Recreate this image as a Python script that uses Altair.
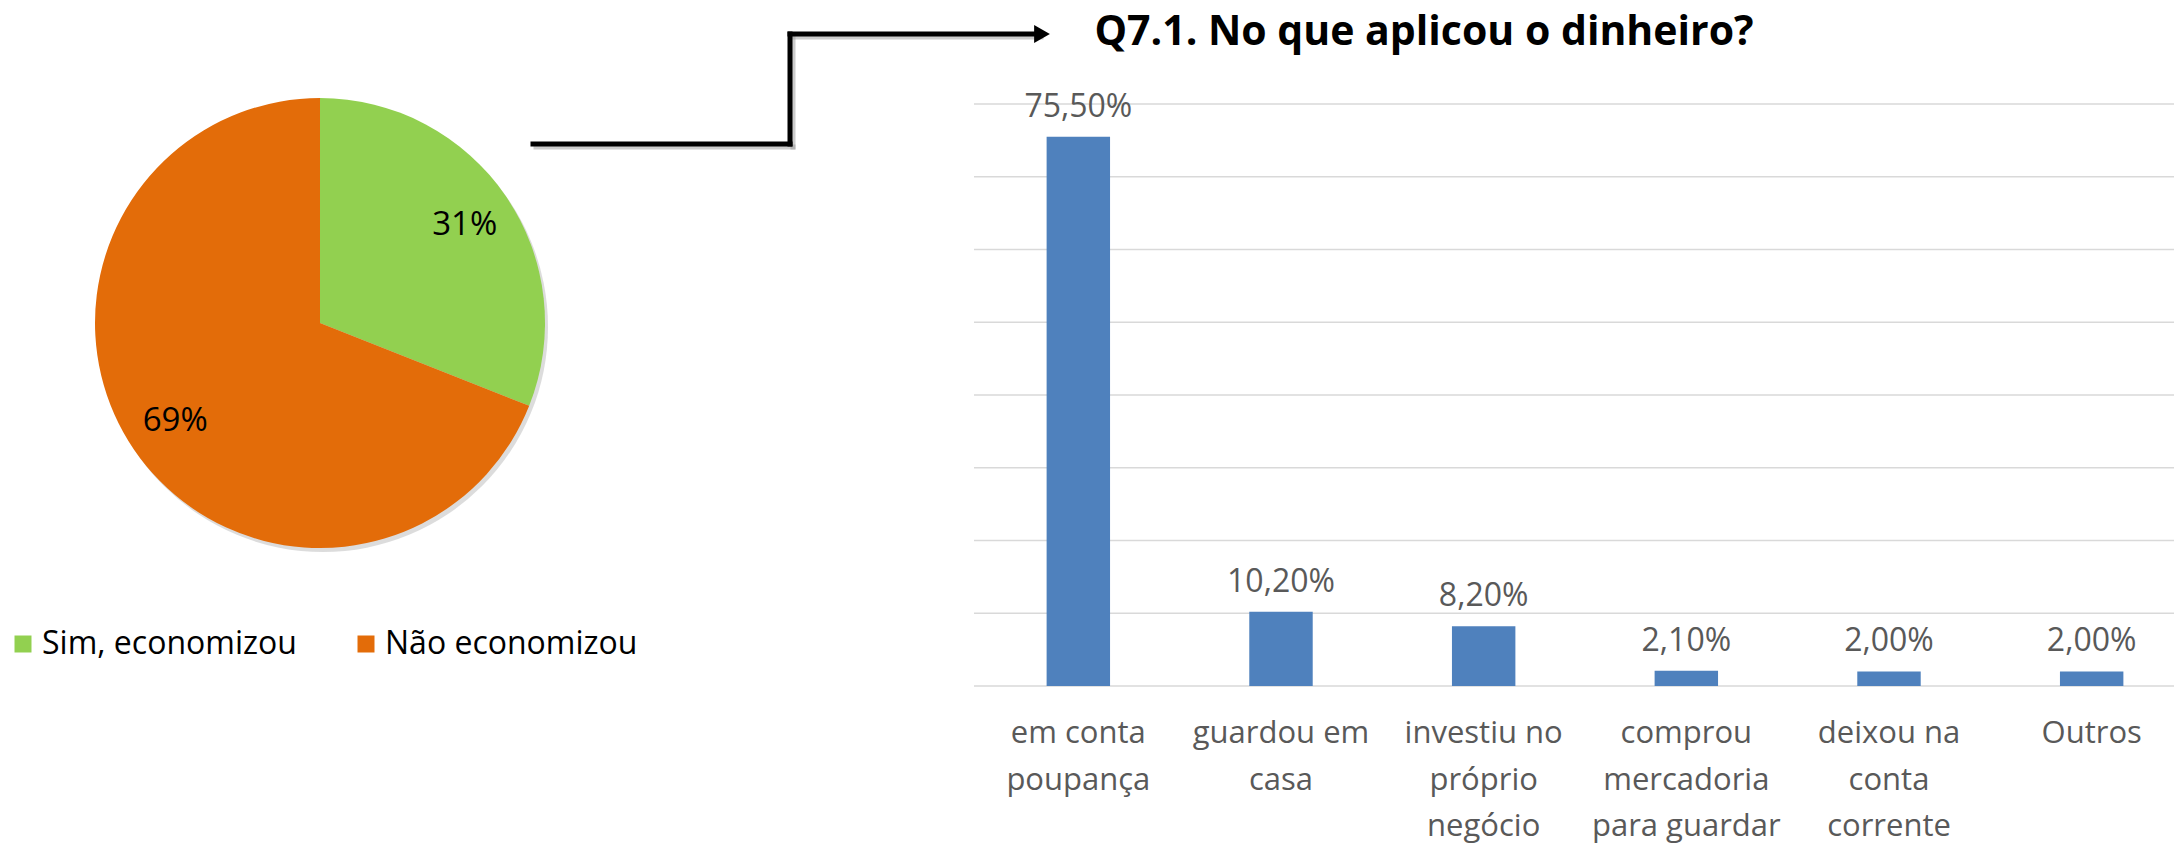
import altair as alt
import pandas as pd

# ---- data ----
segments = ["Sim, economizou", "Não economizou"]
shares = [31, 69]
share_labels = ["31%", "69%"]
pie_colors = ["#92d050", "#e36c09"]

categories = ["em conta\npoupança", "guardou em\ncasa", "investiu no\npróprio\nnegócio",
              "comprou\nmercadoria\npara guardar", "deixou na\nconta\ncorrente", "Outros"]
values = [75.5, 10.2, 8.2, 2.1, 2.0, 2.0]
value_labels = ["75,50%", "10,20%", "8,20%", "2,10%", "2,00%", "2,00%"]
grid_ticks = [0, 10, 20, 30, 40, 50, 60, 70, 80]
title_text = "Q7.1. No que aplicou o dinheiro?"

FONT = "Open Sans"
GREY = "#595959"
BAR = "#4f81bd"

pie_df = pd.DataFrame({"segment": segments, "share": shares, "lab": share_labels, "order": [0, 1]})
bar_df = pd.DataFrame({"cat": categories, "value": values, "lab": value_labels})
grid_df = pd.DataFrame({"v": grid_ticks})
one = pd.DataFrame({"a": [1]})

CX, CY, R = 312, 315, 225

xscale = alt.Scale(domain=categories, range=[969, 2185], paddingInner=0.687, paddingOuter=0.3435)
yscale = alt.Scale(domain=[0, 80], range=[678, 96], nice=False, zero=True)

# ---- pie ----
pie_shadow = alt.Chart(one).mark_arc(theta=0, theta2=6.2832, outerRadius=R,
                                     color="#9a9a9a", opacity=0.35).encode(
    x=alt.value(CX + 3), y=alt.value(CY + 4))

pie_base = alt.Chart(pie_df).encode(
    theta=alt.Theta("share:Q", stack=True),
    order=alt.Order("order:Q"),
)
pie = pie_base.mark_arc(outerRadius=R).encode(
    x=alt.value(CX), y=alt.value(CY),
    color=alt.Color("segment:N", scale=alt.Scale(domain=segments, range=pie_colors),
                    legend=alt.Legend(orient="none", legendX=-1, legendY=620, direction="horizontal",
                                      title=None, symbolType="square", symbolSize=289,
                                      symbolStrokeWidth=0, symbolOpacity=1,
                                      labelFont=FONT, labelFontSize=32, labelColor="black",
                                      labelOffset=3, columnPadding=53, labelLimit=500)),
)
pie_text = pie_base.mark_text(radius=175, font=FONT, fontSize=33, color="black",
                              align="center", baseline="middle").encode(
    x=alt.value(CX), y=alt.value(CY), text="lab:N")

# ---- arrow ----
def seg(x1, y1, x2, y2, color, op=1.0):
    return alt.Chart(one).mark_rule(color=color, strokeWidth=5, strokeCap="square", opacity=op).encode(
        x=alt.value(x1), x2=alt.value(x2), y=alt.value(y1), y2=alt.value(y2))

shadow = [seg(528, 139, 785, 139, "#9a9a9a", 0.5), seg(785, 139, 785, 29, "#9a9a9a", 0.5),
          seg(785, 29, 1033, 29, "#9a9a9a", 0.5)]
arrow = [seg(525, 136, 782, 136, "black"), seg(782, 136, 782, 26, "black"),
         seg(782, 26, 1030, 26, "black")]
head = alt.Chart(one).mark_point(shape="triangle-right", filled=True, color="black",
                                 size=330, opacity=1).encode(x=alt.value(1034), y=alt.value(26))

# ---- bar chart ----
grid = alt.Chart(grid_df).mark_rule(color="#d9d9d9", strokeWidth=1.6).encode(
    y=alt.Y("v:Q", scale=yscale, axis=None), x=alt.value(966), x2=alt.value(2174))

bars = alt.Chart(bar_df).mark_bar(color=BAR).encode(
    x=alt.X("cat:N", scale=xscale, axis=None, sort=categories),
    y=alt.Y("value:Q", scale=yscale, axis=None),
)
bar_text = alt.Chart(bar_df).mark_text(font=FONT, fontSize=32, color=GREY, dy=-30,
                                       align="center", baseline="middle").encode(
    x=alt.X("cat:N", scale=xscale, axis=None, sort=categories),
    y=alt.Y("value:Q", scale=yscale, axis=None),
    text="lab:N",
)
cat_text = alt.Chart(bar_df).mark_text(font=FONT, fontSize=31, color=GREY, lineBreak="\n",
                                       lineHeight=46.5, align="center", baseline="top").encode(
    x=alt.X("cat:N", scale=xscale, axis=None, sort=categories),
    y=alt.value(711),
    text="cat:N",
)

title = alt.Chart(one).mark_text(font=FONT, fontWeight="bold", fontSize=41, color="black",
                                 align="center", baseline="middle").encode(
    x=alt.value(1416), y=alt.value(25), text=alt.value(title_text))

chart = alt.layer(
    pie_shadow, pie, pie_text, *shadow, *arrow, head, grid, bars, bar_text, cat_text, title
).properties(
    width=2166, height=837, padding=0,
    autosize=alt.AutoSizeParams(type="none"),
).configure_view(stroke="transparent")

chart.save("out.html", embed_options={"renderer": "svg", "actions": False})
